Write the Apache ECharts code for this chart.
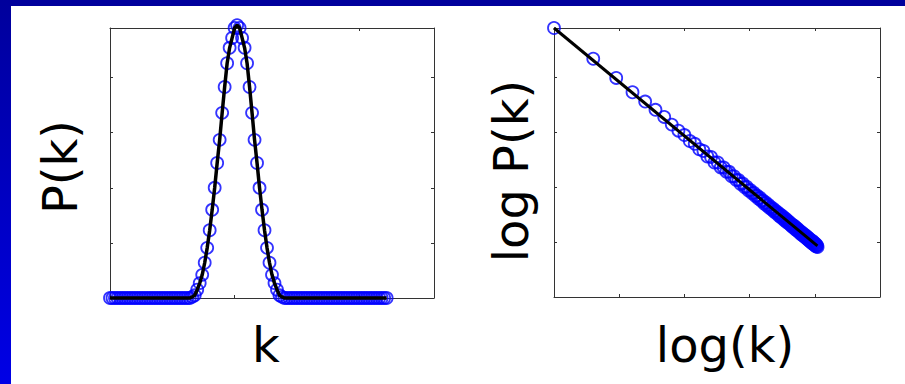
<!DOCTYPE html>
<html>
<head>
<meta charset="utf-8">
<script src="https://cdn.jsdelivr.net/npm/echarts@6/dist/echarts.min.js"></script>
<style>
html,body{margin:0;padding:0;background:#fff;}
#c{width:905px;height:384px;}
</style>
</head>
<body>
<div id="c"></div>
<script>
// Left panel: P(k) versus k
const kL = [0,1,2,3,4,5,6,7,8,9,10,11,12,13,14,15,16,17,18,19,20,21,22,23,24,25,26,27,28,29,30,31,32,33,34,35,36,37,38,39,40,41,42,43,44,45,46,47,48,49,50,51,52,53,54,55,56,57,58,59,60,61,62,63,64,65,66,67,68,69,70,71,72,73,74,75,76,77,78,79,80,81,82,83,84,85,86,87,88,89,90,91,92,93,94,95,96,97,98,99,100,101,102,103,104,105,106,107,108,109,110,111];
const PL = [0,0,0,0,0,0,0,0,0,0,0,0,0,0,0,0,0,0,0,0,0,0,0,0,0,0,0,0,0,0,0,0,0,
  0.0002,0.0005,0.0015,0.0027,0.0042,0.0064,0.0091,0.0123,0.0160,0.0200,0.0245,0.0287,0.0336,0.0383,0.0426,0.0454,0.0472,0.0490,0.0495,
  0.0490,0.0472,0.0454,0.0426,0.0383,0.0336,0.0287,0.0245,0.0200,0.0160,0.0123,0.0091,0.0064,0.0042,0.0027,0.0015,0.0005,0.0002,
  0,0,0,0,0,0,0,0,0,0,0,0,0,0,0,0,0,0,0,0,0,0,0,0,0,0,0,0,0,0,0,0,0,0,0,0,0,0,0,0,0,0];
// Right panel: log P(k) versus log(k)
const kR = [1,2,3,4,5,6,7,8,9,10,11,12,13,14,15,16,17,18,19,20,21,22,23,24,25,26,27,28,29,30,31,32,33,34,35,36,37,38,39,40,41,42,43,44,45,46,47,48,49,50,51,52,53,54,55,56,57,58,59,60,61,62,63,64,65,66,67,68,69,70,71,72,73,74,75,76,77,78,79,80,81,82,83,84,85,86,87,88,89,90,91,92,93,94,95,96,97,98,99,100,101,102,103,104,105];
const logPR = [-0.10,-0.66,-1.01,-1.27,-1.44,-1.59,-1.72,-1.86,-1.97,-2.05,
  -2.16,-2.21,-2.31,-2.34,-2.44,-2.45,-2.55,-2.55,-2.64,-2.64,
  -2.72,-2.72,-2.80,-2.80,-2.87,-2.87,-2.94,-2.93,-3.00,-2.99,
  -3.06,-3.05,-3.11,-3.10,-3.16,-3.15,-3.21,-3.19,-3.25,-3.24,
  -3.30,-3.28,-3.34,-3.32,-3.38,-3.36,-3.41,-3.39,-3.45,-3.43,
  -3.48,-3.46,-3.52,-3.49,-3.55,-3.52,-3.58,-3.55,-3.61,-3.58,
  -3.64,-3.61,-3.66,-3.64,-3.69,-3.67,-3.72,-3.69,-3.74,-3.71,
  -3.77,-3.74,-3.79,-3.76,-3.81,-3.79,-3.84,-3.81,-3.86,-3.83,
  -3.88,-3.85,-3.90,-3.87,-3.92,-3.89,-3.94,-3.91,-3.96,-3.93,
  -3.98,-3.95,-4.00,-3.97,-4.02,-3.98,-4.03,-4.00,-4.05,-4.02,
  -4.07,-4.04,-4.08,-4.06,-4.09];
const fitLogK = [0, 2.02];
const fitLogP = [-0.10, -4.07];

const labels = { leftY: 'P(k)', leftX: 'k', rightY: 'log P(k)', rightX: 'log(k)' };

const chart = echarts.init(document.getElementById('c'), null, {renderer: 'svg'});

function axisCommon(extra) {
  return Object.assign({
    type: 'value',
    axisLine: {show: true, onZero: false, lineStyle: {color: '#333', width: 1}},
    axisTick: {show: true, inside: true, length: 3, lineStyle: {color: '#333', width: 1}},
    axisLabel: {show: false},
    splitLine: {show: false}
  }, extra);
}

const leftPts = kL.map((k, i) => [k, PL[i]]);
const rightPts = kR.map((k, i) => [Math.log10(k), logPR[i]]);
const fitPts = fitLogK.map((x, i) => [x, fitLogP[i]]);

const textStyle = {fontFamily: 'DejaVu Sans', fontSize: 48, fill: '#000'};

const markerStyle = {color: 'rgba(0,0,0,0)', borderColor: '#0000ff', borderWidth: 1.8};

const option = {
  animation: false,
  backgroundColor: '#fff',
  grid: [
    {left: 110, top: 28, width: 324, height: 270},
    {left: 554, top: 28, width: 326, height: 269}
  ],
  xAxis: [
    axisCommon({gridIndex: 0, position: 'bottom', min: 0, max: 130, interval: 50}),
    axisCommon({gridIndex: 0, position: 'top', min: 0, max: 130, interval: 50}),
    axisCommon({gridIndex: 1, position: 'bottom', min: 0, max: 2.5, interval: 0.5}),
    axisCommon({gridIndex: 1, position: 'top', min: 0, max: 2.5, interval: 0.5})
  ],
  yAxis: [
    axisCommon({gridIndex: 0, position: 'left', min: 0, max: 0.049, interval: 0.01}),
    axisCommon({gridIndex: 0, position: 'right', min: 0, max: 0.049, interval: 0.01}),
    axisCommon({gridIndex: 1, position: 'left', min: -5, max: -0.1, interval: 1}),
    axisCommon({gridIndex: 1, position: 'right', min: -5, max: -0.1, interval: 1})
  ],
  series: [
    {
      type: 'scatter', xAxisIndex: 0, yAxisIndex: 0, data: leftPts, clip: false,
      symbol: 'circle', symbolSize: 12, itemStyle: markerStyle, z: 2
    },
    {
      type: 'line', xAxisIndex: 0, yAxisIndex: 0, data: leftPts, showSymbol: false,
      lineStyle: {color: '#000', width: 3.5}, z: 3, clip: false
    },
    {
      type: 'scatter', xAxisIndex: 2, yAxisIndex: 2, data: rightPts, clip: false,
      symbol: 'circle', symbolSize: 12, itemStyle: markerStyle, z: 2
    },
    {
      type: 'line', xAxisIndex: 2, yAxisIndex: 2, data: fitPts, showSymbol: false,
      lineStyle: {color: '#000', width: 3}, z: 3, clip: false
    }
  ],
  graphic: [
    {type: 'rect', left: 0, top: 0, shape: {width: 905, height: 6}, style: {fill: '#00009c'}, z: 10},
    {type: 'rect', left: 0, top: 0, shape: {width: 11, height: 384},
      style: {fill: new echarts.graphic.LinearGradient(0, 0, 0, 1, [{offset: 0, color: '#00009c'}, {offset: 1, color: '#0000e6'}])}, z: 10},
    {type: 'text', x: 60, y: 167, rotation: Math.PI / 2,
      style: Object.assign({text: labels.leftY, textAlign: 'center', textVerticalAlign: 'middle'}, textStyle)},
    {type: 'text', x: 266, y: 345,
      style: Object.assign({text: labels.leftX, textAlign: 'center', textVerticalAlign: 'middle'}, textStyle)},
    {type: 'text', x: 511, y: 171, rotation: Math.PI / 2,
      style: Object.assign({text: labels.rightY, textAlign: 'center', textVerticalAlign: 'middle'}, textStyle)},
    {type: 'text', x: 725, y: 345,
      style: Object.assign({text: labels.rightX, textAlign: 'center', textVerticalAlign: 'middle'}, textStyle)}
  ]
};
chart.setOption(option);
</script>
</body>
</html>
